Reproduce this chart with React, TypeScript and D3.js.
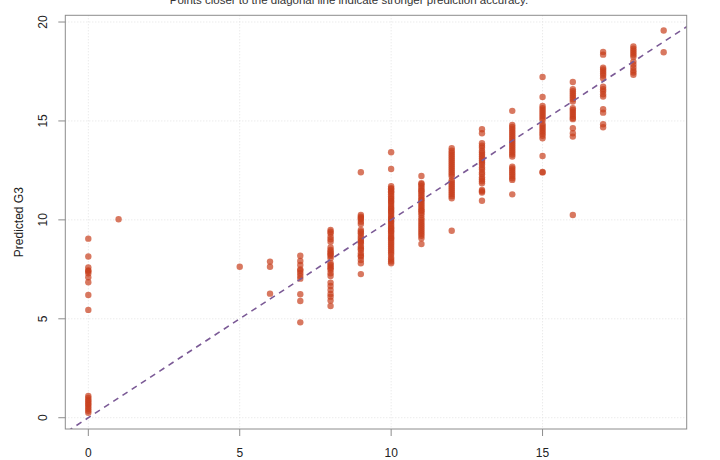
import React, { useRef, useEffect } from 'react';
import * as d3 from 'd3';

// predicted G3 values, grouped by actual G3 grade
const pred0 = [9.05, 8.15, 7.6, 7.45, 7.4, 7.3, 7.1, 6.85, 6.2, 5.45, 1.1, 1.0, 0.9, 0.82, 0.72, 0.65, 0.55, 0.45, 0.35, 0.25];
const pred1 = [10.03];
const pred5 = [7.63];
const pred6 = [7.89, 7.63, 6.27];
const pred7 = [8.19, 7.92, 7.72, 7.5, 7.43, 7.3, 7.16, 7.03, 6.24, 5.9, 4.82];
const pred8 = [9.49, 9.4, 9.32, 9.15, 9.02, 8.9, 8.6, 8.48, 8.4, 8.31, 8.25, 8.18, 8.06, 7.81, 7.72, 7.63, 7.55, 7.47, 7.3, 7.16, 6.83, 6.66, 6.46, 6.25, 6.12, 5.92, 5.65];
const pred9 = [12.41, 10.25, 10.16, 10.1, 10.03, 9.91, 9.79, 9.49, 9.4, 9.32, 9.19, 9.07, 8.95, 8.9, 8.8, 8.65, 8.55, 8.48, 8.31, 8.2, 8.14, 7.97, 7.81, 7.26];
const pred10 = [13.42, 12.57, 11.7, 11.6, 11.55, 11.45, 11.4, 11.3, 11.2, 11.1, 11.05, 10.95, 10.9, 10.8, 10.7, 10.6, 10.55, 10.45, 10.4, 10.3, 10.2, 10.1, 10.05, 9.95, 9.9, 9.8, 9.7, 9.6, 9.55, 9.45, 9.4, 9.3, 9.2, 9.1, 9.05, 8.95, 8.85, 8.75, 8.65, 8.55, 8.45, 8.35, 8.25, 8.1, 8.0, 7.9, 7.81];
const pred11 = [12.22, 11.85, 11.8, 11.7, 11.6, 11.5, 11.45, 11.35, 11.25, 11.15, 11.05, 11.0, 10.9, 10.8, 10.7, 10.6, 10.5, 10.45, 10.35, 10.25, 10.1, 10.0, 9.9, 9.8, 9.7, 9.6, 9.5, 9.4, 9.3, 9.2, 9.07, 8.78];
const pred12 = [13.62, 13.5, 13.4, 13.3, 13.2, 13.1, 13.0, 12.9, 12.8, 12.7, 12.6, 12.5, 12.4, 12.3, 12.2, 12.0, 11.9, 11.8, 11.7, 11.6, 11.5, 11.4, 11.3, 11.2, 11.09, 9.45];
const pred13 = [14.58, 14.38, 13.87, 13.75, 13.65, 13.5, 13.4, 13.3, 13.2, 13.1, 13.0, 12.9, 12.8, 12.65, 12.55, 12.4, 12.3, 12.15, 12.05, 11.95, 11.85, 11.51, 11.45, 11.38, 10.97];
const pred14 = [15.51, 14.8, 14.7, 14.6, 14.5, 14.4, 14.3, 14.2, 14.1, 14.0, 13.9, 13.8, 13.7, 13.6, 13.5, 13.4, 13.3, 13.2, 12.69, 12.6, 12.5, 12.4, 12.3, 12.2, 12.1, 12.02, 11.29];
const pred15 = [17.22, 16.21, 15.76, 15.65, 15.55, 15.45, 15.35, 15.25, 15.15, 15.05, 14.85, 14.75, 14.65, 14.55, 14.45, 14.35, 14.25, 14.12, 13.23, 12.42, 12.4];
const pred16 = [16.97, 16.6, 16.5, 16.4, 16.3, 16.2, 16.1, 15.98, 15.64, 15.55, 15.45, 15.35, 15.25, 15.15, 15.09, 14.63, 14.38, 14.21, 10.25];
const pred17 = [18.49, 18.35, 17.69, 17.6, 17.5, 17.4, 17.3, 17.16, 16.73, 16.6, 16.5, 16.35, 16.23, 15.59, 15.42, 14.83, 14.68];
const pred18 = [18.76, 18.65, 18.55, 18.45, 18.35, 18.25, 18.0, 17.85, 17.7, 17.55, 17.45, 17.33];
const pred19 = [19.57, 18.47];

const grades = [0, 1, 5, 6, 7, 8, 9, 10, 11, 12, 13, 14, 15, 16, 17, 18, 19];
const predictions = [pred0, pred1, pred5, pred6, pred7, pred8, pred9, pred10, pred11, pred12, pred13, pred14, pred15, pred16, pred17, pred18, pred19];

const xTicks = [0, 5, 10, 15];
const yTicks = [0, 5, 10, 15, 20];

const subtitle = 'Points closer to the diagonal line indicate stronger prediction accuracy.';
const yLabel = 'Predicted G3';

const W = 720;
const H = 460;
const FONT = '"Liberation Sans", Arial, Helvetica, sans-serif';

const App: React.FC = () => {
  const svgRef = useRef<SVGSVGElement | null>(null);

  useEffect(() => {
    const svg = d3.select(svgRef.current);
    svg.selectAll('*').remove();

    const left = 65.3, right = 686.7, top = 15.3, bottom = 429;
    const x = d3.scaleLinear().domain([-0.76, 19.76]).range([left, right]);
    const y = d3.scaleLinear().domain([-0.57, 20.34]).range([bottom, top]);

    const points = grades.flatMap((g, i) => predictions[i].map(p => ({ actual: g, predicted: p })));

    svg.append('defs').append('clipPath').attr('id', 'plot-clip')
      .append('rect')
      .attr('x', left).attr('y', top)
      .attr('width', right - left).attr('height', bottom - top);

    // subtitle (mostly cropped off the top)
    svg.append('text')
      .attr('x', 349).attr('y', 4)
      .attr('text-anchor', 'middle')
      .attr('font-size', 11.5)
      .attr('fill', '#333')
      .text(subtitle);

    // grid
    const grid = svg.append('g').attr('stroke', '#e2e2e2').attr('stroke-width', 1).attr('stroke-dasharray', '1,2');
    grid.selectAll('.gx').data(xTicks).enter().append('line')
      .attr('x1', d => x(d)).attr('x2', d => x(d))
      .attr('y1', top).attr('y2', bottom);
    grid.selectAll('.gy').data(yTicks).enter().append('line')
      .attr('y1', d => y(d)).attr('y2', d => y(d))
      .attr('x1', left).attr('x2', right);

    // points
    svg.append('g')
      .selectAll('circle')
      .data(points)
      .enter().append('circle')
      .attr('cx', d => x(d.actual))
      .attr('cy', d => y(d.predicted))
      .attr('r', 3.2)
      .attr('fill', '#C73E1D')
      .attr('fill-opacity', 0.7);

    // y = x reference line
    const line = d3.line<number>().x(d => x(d)).y(d => y(d));
    svg.append('path')
      .attr('clip-path', 'url(#plot-clip)')
      .attr('d', line([-1, 21]))
      .attr('fill', 'none')
      .attr('stroke', '#7B5A96')
      .attr('stroke-width', 1.6)
      .attr('stroke-dasharray', '6,5');

    // box
    svg.append('rect')
      .attr('x', left).attr('y', top)
      .attr('width', right - left).attr('height', bottom - top)
      .attr('fill', 'none')
      .attr('stroke', '#8c8c8c')
      .attr('stroke-width', 1);

    // x axis
    const xa = svg.append('g');
    xa.selectAll('line').data(xTicks).enter().append('line')
      .attr('x1', d => x(d)).attr('x2', d => x(d))
      .attr('y1', bottom).attr('y2', bottom + 7)
      .attr('stroke', '#8c8c8c');
    xa.selectAll('text').data(xTicks).enter().append('text')
      .attr('x', d => x(d)).attr('y', 457)
      .attr('text-anchor', 'middle')
      .attr('font-size', 12)
      .attr('fill', '#222')
      .text(d => d);

    // y axis
    const ya = svg.append('g');
    ya.selectAll('line').data(yTicks).enter().append('line')
      .attr('x1', left - 7).attr('x2', left)
      .attr('y1', d => y(d)).attr('y2', d => y(d))
      .attr('stroke', '#8c8c8c');
    ya.selectAll('text').data(yTicks).enter().append('text')
      .attr('transform', d => `translate(47,${y(d)}) rotate(-90)`)
      .attr('text-anchor', 'middle')
      .attr('font-size', 12)
      .attr('fill', '#222')
      .text(d => d);

    svg.append('text')
      .attr('transform', `translate(23,${(top + bottom) / 2}) rotate(-90)`)
      .attr('text-anchor', 'middle')
      .attr('font-size', 12)
      .attr('fill', '#222')
      .text(yLabel);
  }, []);

  return (
    <svg
      ref={svgRef}
      width={W}
      height={H}
      style={{ position: 'absolute', left: 0, top: 0, background: '#fff', fontFamily: FONT }}
    />
  );
};

export default App;
